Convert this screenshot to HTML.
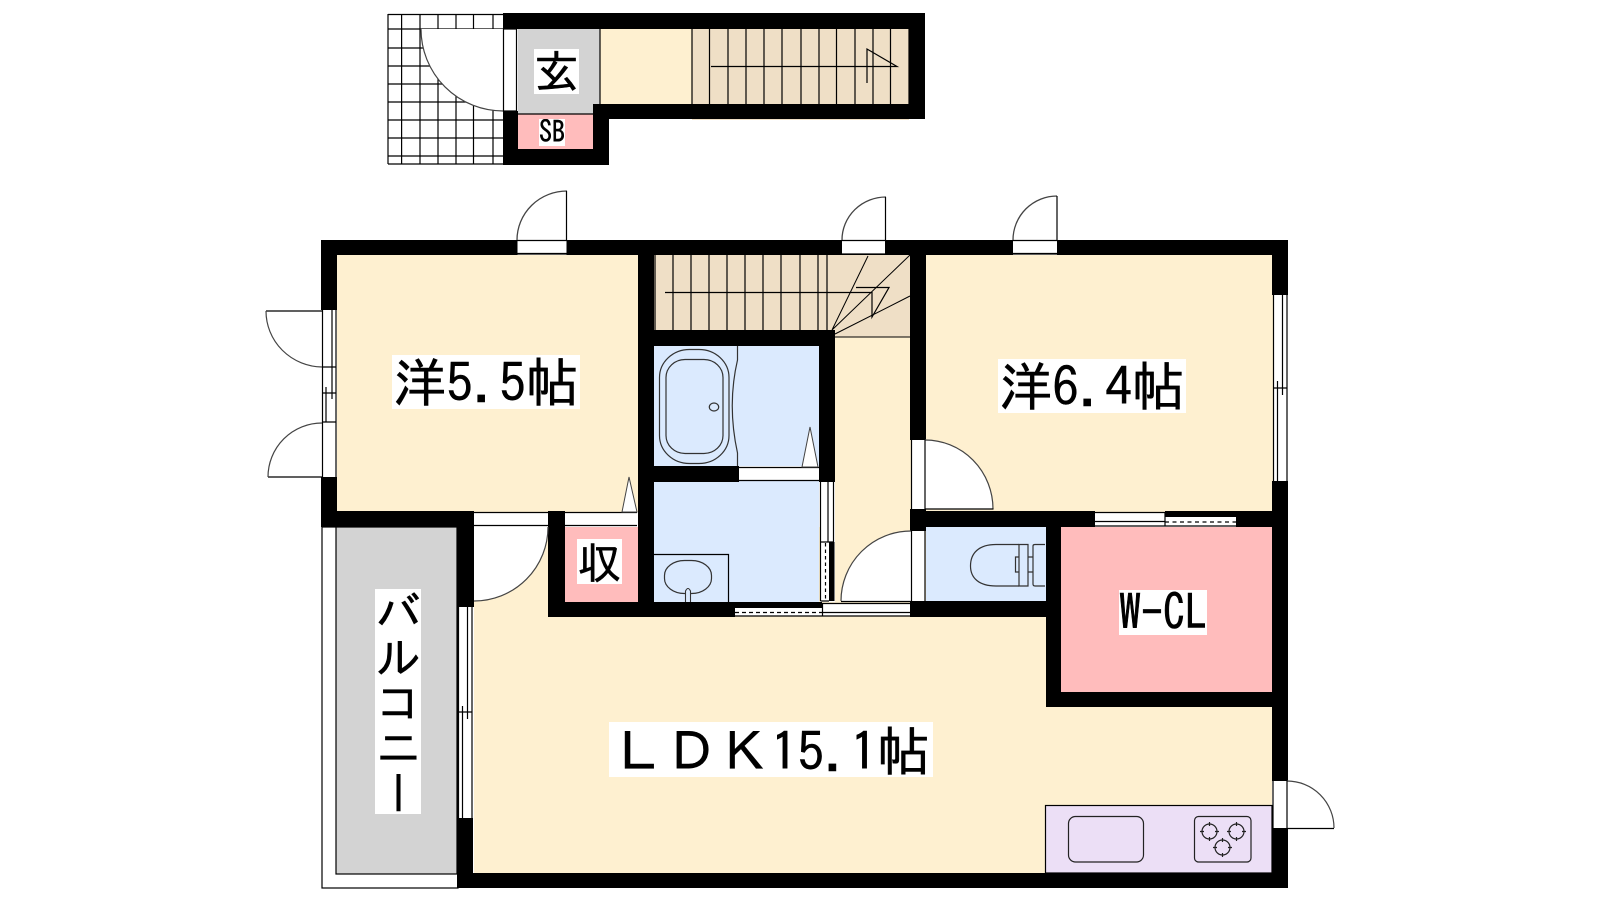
<!DOCTYPE html>
<html lang="ja">
<head>
<meta charset="utf-8">
<title>間取り図</title>
<style>
html,body{margin:0;padding:0;width:1600px;height:900px;background:#fff;overflow:hidden}
svg{position:absolute;left:0;top:0}
.l{position:absolute;background:#fff;color:#000;font-family:"IPAGothic","Liberation Sans","Noto Sans CJK JP",sans-serif;white-space:pre;text-align:center;overflow:hidden;-webkit-text-stroke:.5px #000}
.l span{display:inline-block}
</style>
</head>
<body>
<svg width="1600" height="900" viewBox="0 0 1600 900" xmlns="http://www.w3.org/2000/svg">
<!-- upper floor plan: grid -->
<g stroke="#000" stroke-width="1.2" fill="none">
<path d="M388 14V164M401.6 14V164M420 14V164M438 14V164M456 14V164M473.5 14V164M493 14V164"/>
<path d="M388 14.5H503M388 29H503M388 48H503M388 66H503M388 84H503M388 102H503M388 120H503M388 138H503M388 156H503M388 164H503"/>
</g>
<path d="M421 29A82 82 0 0 0 503 111V29Z" fill="#fff"/>
<path d="M421 29A82 82 0 0 0 503 111" fill="none" stroke="#444" stroke-width="1.2"/>
<!-- upper fills -->
<rect x="518" y="29" width="82" height="85" fill="#d3d3d3"/>
<rect x="600" y="29" width="92" height="76" fill="#fef0d0"/>
<rect x="692" y="29" width="217" height="91" fill="#efdfc6"/>
<rect x="518" y="114" width="75" height="35" fill="#ffbcbc"/>
<!-- upper walls -->
<g fill="#000">
<rect x="503" y="13" width="422" height="16"/>
<rect x="909" y="13" width="16" height="106"/>
<rect x="593" y="104" width="332" height="15"/>
<rect x="503" y="111" width="15" height="54"/>
<rect x="503" y="149" width="106" height="16"/>
<rect x="593" y="104" width="16" height="61"/>
</g>
<rect x="503.5" y="29" width="13" height="82" fill="#fff" stroke="#000" stroke-width="1.2"/>
<g stroke="#000" stroke-width="1.2" fill="none">
<path d="M518 114H593M600 29V104"/>
<path d="M692 29V104M709.5 29V104M728 29V104M746 29V104M764 29V104M782 29V104M801 29V104M819 29V104M836.5 29V104M855 29V104M873 29V104M890.5 29V104M909 29V104"/>
<path d="M711 66.5H897L867 49V83"/>
</g>

<!-- balcony -->
<rect x="322" y="527" width="136" height="361" fill="#fff" stroke="#000" stroke-width="1.2"/>
<rect x="336" y="527" width="121" height="347" fill="#d3d3d3" stroke="#000" stroke-width="1.2"/>

<!-- main fills -->
<rect x="337" y="255" width="301" height="257" fill="#fef0d0"/>
<rect x="926" y="255" width="347" height="257" fill="#fef0d0"/>
<rect x="474" y="527" width="798" height="346" fill="#fef0d0"/>
<rect x="835" y="330" width="76" height="280" fill="#fef0d0"/>
<path d="M654 255H910V337H835V330H654Z" fill="#efdfc6"/>
<rect x="654" y="346" width="165" height="120" fill="#dbeafe"/>
<rect x="654" y="480" width="165" height="124" fill="#dbeafe"/>
<rect x="926" y="527" width="120" height="75" fill="#dbeafe"/>
<rect x="563" y="527" width="75" height="75" fill="#ffbcbc"/>
<rect x="1061" y="527" width="211" height="165" fill="#ffbcbc"/>
<rect x="1045.5" y="805.5" width="226.5" height="67.5" fill="#ecdff6" stroke="#000" stroke-width="1.2"/>

<!-- walls -->
<g fill="#000">
<rect x="321" y="240" width="967" height="15"/>
<rect x="321" y="240" width="16" height="70"/>
<rect x="321" y="477" width="16" height="50"/>
<rect x="321" y="511" width="153" height="16"/>
<rect x="457" y="511" width="17" height="96"/>
<rect x="457" y="818" width="16" height="70"/>
<rect x="457" y="873" width="831" height="15"/>
<rect x="1272" y="240" width="16" height="55"/>
<rect x="1272" y="481" width="16" height="300"/>
<rect x="1272" y="828" width="16" height="60"/>
<rect x="638" y="240" width="16" height="377"/>
<rect x="638" y="330" width="197" height="16"/>
<rect x="819" y="330" width="16" height="152"/>
<rect x="654" y="466" width="85" height="16"/>
<rect x="548" y="511" width="17" height="106"/>
<rect x="548" y="602" width="187" height="15"/>
<rect x="910" y="240" width="16" height="200"/>
<rect x="910" y="509" width="16" height="22"/>
<rect x="910" y="511" width="185" height="16"/>
<rect x="910" y="601" width="136" height="16"/>
<rect x="1046" y="511" width="15" height="196"/>
<rect x="1046" y="692" width="242" height="15"/>
<rect x="1236" y="511" width="52" height="16"/>
</g>

<!-- left double door -->
<rect x="322.5" y="310" width="13.5" height="167" fill="#fff"/>
<g stroke="#000" stroke-width="1.2" fill="none">
<path d="M322.5 310V477M336 310V477M322.5 367H336M322.5 393H336M322.5 422H336M326 387V422M332 310V399"/>
<path d="M266 311H322.5M268 477H322.5"/>
</g>
<path d="M266 311A57 56 0 0 0 322 367" fill="none" stroke="#444" stroke-width="1.2"/>
<path d="M268 477A54 54 0 0 1 322 423" fill="none" stroke="#444" stroke-width="1.2"/>

<!-- top wall doors -->
<path d="M517 240A50 49 0 0 1 567 191V240Z" fill="#fff"/>
<rect x="517.5" y="240.5" width="49" height="14" fill="#fff"/>
<path d="M517 240A50 49 0 0 1 567 191" fill="none" stroke="#444" stroke-width="1.3"/>
<path d="M566.5 191V240M517.5 240.5H566.5M517.5 253.5H566.5" stroke="#000" stroke-width="1.2" fill="none"/>

<rect x="842" y="240.5" width="43" height="14" fill="#fff"/>
<path d="M842 240A44 43 0 0 1 886 197" fill="none" stroke="#444" stroke-width="1.3"/>
<path d="M885.5 197V240M842 240.5H885.5M842 254H885.5" stroke="#000" stroke-width="1.2" fill="none"/>

<rect x="1013" y="240.5" width="44" height="14" fill="#fff"/>
<path d="M1013 240A44 44 0 0 1 1057 196" fill="none" stroke="#444" stroke-width="1.3"/>
<path d="M1057 196V240M1013 240.5H1057M1013 253.5H1057" stroke="#000" stroke-width="1.2" fill="none"/>

<!-- right window -->
<rect x="1273" y="295" width="14" height="186" fill="#fff"/>
<path d="M1273.5 295V481M1287 295V481M1277.5 381V481M1282.5 295V395M1273.5 388H1287" stroke="#000" stroke-width="1.2" fill="none"/>

<!-- stairs lines -->
<g stroke="#000" stroke-width="1.2" fill="none">
<path d="M655 255V330M673 255V330M691 255V330M709 255V330M727 255V330M745 255V330M763 255V330M781 255V330M800 255V330M818 255V330M827 255V330"/>
<path d="M665 292.5H872V317L889 287.5H856"/>
<path d="M832 330L868 256M832 330L910 255M835 334L910 296M835 337H910" stroke-width="1"/>
</g>

<!-- bath -->
<g stroke="#333" stroke-width="1.2" fill="none">
<rect x="659.5" y="349.5" width="69.5" height="114" rx="30" ry="28"/>
<rect x="666" y="359.5" width="57" height="94" rx="19" ry="18"/>
<ellipse cx="714" cy="407" rx="4.7" ry="4"/>
<path d="M737.5 346V360Q727 405 737.5 453V466"/>
</g>
<path d="M739 467H819V481H739Z" fill="#fff"/>
<path d="M739 467.5H819M739 480.5H819" stroke="#000" stroke-width="1.2"/>
<path d="M802 467L810 427L818 467Z" fill="#fff" stroke="#444" stroke-width="1"/>

<!-- closet top and wedge -->
<rect x="565" y="512" width="72" height="14" fill="#fff"/>
<path d="M565 512.5H637M565 525.5H637" stroke="#000" stroke-width="1.2"/>
<path d="M622 512L629 477L637 512Z" fill="#fff" stroke="#444" stroke-width="1"/>

<!-- balcony door -->
<rect x="474" y="512" width="74" height="14" fill="#fff"/>
<path d="M474 512.5H548M474 525.5H548" stroke="#000" stroke-width="1.2"/>
<path d="M474 527H548A74 74 0 0 1 474 601Z" fill="#fff"/>
<path d="M548 527A74 74 0 0 1 474 601" fill="none" stroke="#444" stroke-width="1.2"/>

<!-- balcony window -->
<rect x="458" y="607" width="14" height="211" fill="#fff"/>
<path d="M458.5 607V818M472 607V818M462.5 706V818M467.5 607V719M458.5 712H472" stroke="#000" stroke-width="1.2" fill="none"/>

<!-- wash basin -->
<g stroke="#000" stroke-width="1.2" fill="none">
<path d="M654 554.5H728.5V602"/>
<rect x="664.5" y="560.5" width="47" height="33" rx="20" ry="15" stroke="#333"/>
</g>
<path d="M685.5 602V591Q688 586 690.5 591V602" fill="#dbeafe" stroke="#333" stroke-width="1.1"/>

<!-- vertical sliding door between washroom and hall -->
<rect x="820" y="482" width="15" height="120" fill="#fff"/>
<rect x="829" y="542" width="5.5" height="59" fill="#000"/>
<path d="M820.5 482V601M833.5 482V542M828 482V542M820.5 601H829M820.5 542H834" stroke="#000" stroke-width="1.2" fill="none"/>
<path d="M825.5 543V601" stroke="#000" stroke-width="1.2" stroke-dasharray="3.5 3" fill="none"/>

<!-- bottom sliding door -->
<rect x="735" y="603" width="175" height="13.5" fill="#fff"/>
<rect x="735" y="602" width="87" height="6" fill="#000"/>
<path d="M735 612.5H822" stroke="#000" stroke-width="1.2" stroke-dasharray="4 3" fill="none"/>
<path d="M822 603.5H910M822 612.5H910M822 616H910M822.5 603V616M735 616H822" stroke="#000" stroke-width="1.2" fill="none"/>

<!-- east door of room 6.4 -->
<path d="M925 440A68 69 0 0 1 993 509H925Z" fill="#fff"/>
<rect x="911" y="440" width="14" height="69" fill="#fff"/>
<path d="M925 440A68 69 0 0 1 993 509" fill="none" stroke="#444" stroke-width="1.2"/>
<path d="M911.5 440V509M925 440V509M925 509H993.5" stroke="#000" stroke-width="1.2" fill="none"/>

<!-- toilet door -->
<path d="M911 531A70 70 0 0 0 841 601H911Z" fill="#fff"/>
<rect x="911" y="531" width="14" height="70" fill="#fff"/>
<path d="M911 531A70 70 0 0 0 841 601" fill="none" stroke="#444" stroke-width="1.2"/>
<path d="M911.5 531V601M925 531V601M841 601.5H911" stroke="#000" stroke-width="1.2" fill="none"/>

<!-- WCL sliding door -->
<rect x="1095" y="512" width="70" height="14" fill="#fff"/>
<rect x="1165" y="511" width="71" height="6" fill="#000"/>
<rect x="1165" y="517" width="71" height="9.5" fill="#fff"/>
<path d="M1095 512.5H1165M1095 521.5H1165M1095 526H1236M1165 512V526" stroke="#000" stroke-width="1.2" fill="none"/>
<path d="M1165 522H1236" stroke="#000" stroke-width="1.2" stroke-dasharray="4 3.5" fill="none"/>

<!-- toilet -->
<g stroke="#333" stroke-width="1.2" fill="#dbeafe">
<path d="M1019 544.5H996C979 544.5 970.5 553 970.5 566C970.5 578 979 586 996 586H1019"/>
<path d="M1019 544.5H1028V586H1019ZM1019 557H1015.5V572H1019"/>
<path d="M1028 557H1033M1028 572H1033"/>
<path d="M1045 544.5H1035Q1033 544.5 1033 546V584Q1033 586 1035 586H1045"/>
</g>

<!-- kitchen -->
<g stroke="#222" stroke-width="1.2" fill="none">
<rect x="1068.5" y="816.5" width="75" height="45.5" rx="7"/>
<rect x="1194.5" y="816.5" width="56.5" height="45.5" rx="4"/>
<circle cx="1209.5" cy="831.5" r="7.5"/>
<circle cx="1236.5" cy="831.5" r="7.5"/>
<circle cx="1222.5" cy="847.5" r="7.5"/>
<path d="M1209.5 822V826M1209.5 837V841M1200 831.5H1204M1215 831.5H1219"/>
<path d="M1236.5 822V826M1236.5 837V841M1227 831.5H1231M1242 831.5H1246"/>
<path d="M1222.5 838V842M1222.5 853V857M1213 847.5H1217M1228 847.5H1232"/>
</g>
<!-- kitchen door -->
<rect x="1273" y="781" width="14" height="47" fill="#fff"/>
<path d="M1287 781A47 47 0 0 1 1334 828" fill="none" stroke="#444" stroke-width="1.2"/>
<path d="M1273 781V828M1287 781V828M1287 828.5H1334" stroke="#000" stroke-width="1.2" fill="none"/>
</svg>

<div class="l" style="left:534px;top:49px;width:45px;height:45px;font-size:45px;line-height:45px">玄</div>
<div class="l" style="left:539px;top:119px;width:26px;height:27px;font-size:26px;line-height:27px"><span style="transform:scaleY(1.15)">SB</span></div>
<div class="l" style="left:392px;top:355px;width:188px;height:54px;font-size:53px;line-height:56px">洋5.5帖</div>
<div class="l" style="left:998px;top:359px;width:188px;height:54px;font-size:53px;line-height:56px">洋6.4帖</div>
<div class="l" style="left:577px;top:539px;width:45px;height:45px;font-size:44px;line-height:48px">収</div>
<div class="l" style="left:1119px;top:590px;width:88px;height:45px;font-size:44px;line-height:45px"><span style="transform:scaleY(1.12)">W-CL</span></div>
<div class="l" style="left:609px;top:722px;width:324px;height:55px;font-size:53px;line-height:59px">ＬＤＫ15.1帖</div>
<div class="l" style="left:375px;top:589px;width:46px;height:225px;font-size:45px;line-height:45px;writing-mode:vertical-rl">バルコニー</div>
</body>
</html>
